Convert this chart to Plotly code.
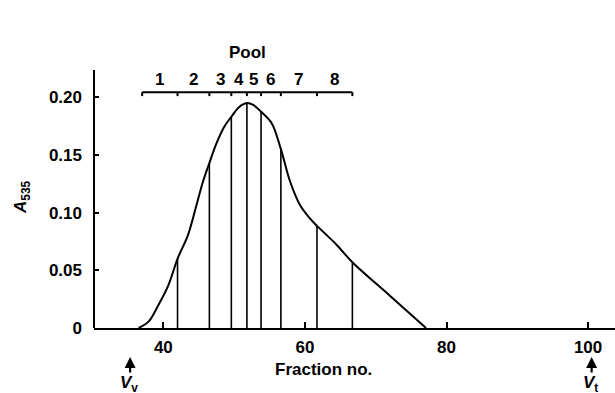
import numpy as np
import plotly.graph_objects as go

# ---- data ----
fraction = [36.5, 37.9, 39.3, 40.7, 42.0, 43.5, 44.7, 45.6, 46.5, 47.5, 48.6, 49.6, 50.6,
            51.8, 52.7, 53.8, 55.3, 56.6, 57.9, 59.3, 60.7, 61.7, 64.5, 66.7, 72.0, 77.1]
a535 = [0.0, 0.0055, 0.020, 0.037, 0.060, 0.081, 0.107, 0.127, 0.143, 0.160, 0.1745, 0.183, 0.191,
        0.195, 0.1933, 0.1875, 0.1775, 0.155, 0.127, 0.1066, 0.095, 0.0885, 0.072, 0.057, 0.028, 0.0]

pool_bounds = [37.0, 42.0, 46.5, 49.6, 51.8, 53.8, 56.6, 61.7, 66.7]
pool_labels = ["1", "2", "3", "4", "5", "6", "7", "8"]
pool_bar_level = 0.2043
pool_tick_bottom = 0.2010
pool_label_level = 0.2150
pool_title_level = 0.2390

x_ticks = [40, 60, 80, 100]
y_ticks = [0, 0.05, 0.10, 0.15, 0.20]
y_ticktext = ["0", "0.05", "0.10", "0.15", "0.20"]
v_void = 35.3
v_total = 100.5

x_range = [30.2, 103.8]
y_range = [0, 0.2843]
y_axis_top = 0.2237

FONT = "Liberation Sans, Arial, sans-serif"
PLOT_W, PLOT_H, LEFT, BOTTOM_PX = 521, 328, 94, 328


def px_x(px):
    return (px - LEFT) / PLOT_W


def px_y(py):
    return (BOTTOM_PX - py) / PLOT_H


fig = go.Figure()

# curve
fig.add_trace(go.Scatter(x=fraction, y=a535, mode="lines",
                         line=dict(color="black", width=2, shape="spline", smoothing=1.0),
                         hoverinfo="skip"))

# vertical pool dividers (heights from the curve data)
heights = np.interp(pool_bounds[1:], fraction, a535)
vx, vy = [], []
for b, h in zip(pool_bounds[1:], heights):
    vx += [b, b, None]
    vy += [0, h, None]
fig.add_trace(go.Scatter(x=vx, y=vy, mode="lines",
                         line=dict(color="black", width=1.6), hoverinfo="skip"))

# pool bar with ticks
fig.add_trace(go.Scatter(x=[pool_bounds[0], pool_bounds[-1]],
                         y=[pool_bar_level, pool_bar_level], mode="lines",
                         line=dict(color="black", width=2), hoverinfo="skip"))
tx, ty = [], []
for b in pool_bounds:
    tx += [b, b, None]
    ty += [pool_bar_level, pool_tick_bottom, None]
fig.add_trace(go.Scatter(x=tx, y=ty, mode="lines",
                         line=dict(color="black", width=2), hoverinfo="skip"))

tfont = dict(size=17, family=FONT, color="black")
annotations = []
for i, lab in enumerate(pool_labels):
    mid = (pool_bounds[i] + pool_bounds[i + 1]) / 2
    annotations.append(dict(x=mid, y=pool_label_level, xref="x", yref="y", text=f"<b>{lab}</b>",
                            showarrow=False, xanchor="center", yanchor="middle", font=tfont))
annotations.append(dict(x=(pool_bounds[0] + pool_bounds[-1]) / 2, y=pool_title_level, xref="x", yref="y",
                        text="<b>Pool</b>", showarrow=False, xanchor="center", yanchor="middle",
                        font=tfont))

# axis titles
annotations.append(dict(x=px_x(323.7), y=px_y(370), xref="paper", yref="paper",
                        text="<b>Fraction no.</b>", showarrow=False,
                        xanchor="center", yanchor="middle", font=tfont))
annotations.append(dict(x=px_x(22), y=px_y(197), xref="paper", yref="paper",
                        text="<b><i>A</i><sub>535</sub></b>", textangle=-90, showarrow=False,
                        xanchor="center", yanchor="middle", font=tfont))

# Vv / Vt markers
for xv, sub in [(v_void, "v"), (v_total, "t")]:
    annotations.append(dict(x=xv, y=px_y(357), xref="x", yref="paper", text="",
                            showarrow=True, arrowhead=2, arrowsize=1, arrowwidth=2.2,
                            arrowcolor="black", ax=0, ay=17))
    annotations.append(dict(x=xv, y=px_y(384), xref="x", yref="paper",
                            text=f"<b><i>V</i><sub>{sub}</sub></b>", showarrow=False,
                            xanchor="center", yanchor="middle", xshift=-1, font=tfont))

fig.update_layout(
    width=615, height=393,
    margin=dict(l=94, r=0, t=0, b=65),
    paper_bgcolor="white", plot_bgcolor="white",
    showlegend=False,
    annotations=annotations,
    shapes=[dict(type="line", xref="paper", yref="y", x0=0, x1=0, y0=0, y1=y_axis_top,
                 line=dict(color="black", width=2))],
    font=dict(family=FONT, size=17, color="black"),
)
fig.update_xaxes(range=x_range, showgrid=False, zeroline=False, showline=True,
                 linecolor="black", linewidth=2, ticks="inside", ticklen=6, tickwidth=1.5,
                 tickcolor="black", tickvals=x_ticks, ticktext=[f"<b>{t}</b>" for t in x_ticks],
                 tickfont=tfont, ticklabelstandoff=3)
fig.update_yaxes(range=y_range, showgrid=False, zeroline=False, showline=False,
                 ticks="inside", ticklen=5, tickwidth=1.5, tickcolor="black",
                 tickvals=y_ticks, ticktext=[f"<b>{t}</b>" for t in y_ticktext],
                 tickfont=tfont, ticklabelstandoff=11)

fig.write_html("out.html")
